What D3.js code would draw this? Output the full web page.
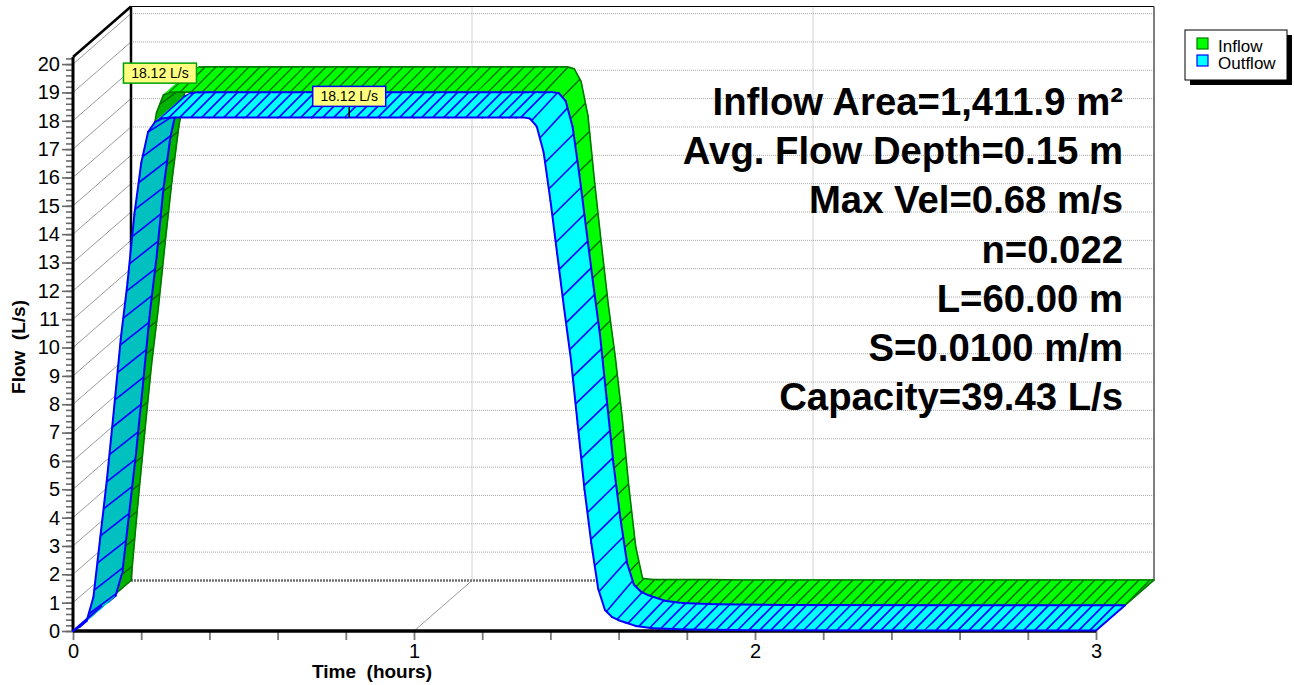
<!DOCTYPE html>
<html>
<head>
<meta charset="utf-8">
<script src="https://cdn.jsdelivr.net/npm/d3@7"></script>
<style>
  body { margin: 0; background: #fff; }
  svg { display: block; font-family: Arial, "Liberation Sans", sans-serif; }
</style>
</head>
<body>
<svg id="chart" width="1294" height="685"></svg>
<script>
// ---- Hydrograph data (hours, L/s) ----
const timeHours = [0, 0.02, 0.04, 0.06, 0.08, 0.10, 0.12, 0.14, 0.16, 0.18, 0.20, 0.22, 0.24, 0.26, 0.28, 0.30,
  0.40, 0.50, 0.60, 0.70, 0.80, 0.90, 1.00, 1.10, 1.20, 1.26, 1.28, 1.30, 1.32, 1.34, 1.36, 1.38, 1.40,
  1.42, 1.44, 1.46, 1.48, 1.50, 1.52, 1.54, 1.56, 1.58, 1.60, 1.62, 1.65, 1.70, 1.80, 2.00, 2.50, 3.00];
const inflowLps = [0, 2.7, 5.2, 7.6, 9.6, 11.9, 14.1, 16.0, 17.4, 18.02, 18.11, 18.12, 18.12, 18.12, 18.12, 18.12,
  18.12, 18.12, 18.12, 18.12, 18.12, 18.12, 18.12, 18.12, 18.12, 18.12, 18.12, 18.05, 17.6, 16.4, 14.0, 11.8, 9.7,
  7.9, 5.8, 3.3, 1.2, 0.08, 0.04, 0.03, 0.03, 0.03, 0.03, 0.03, 0.03, 0.03, 0.02, 0.02, 0.02, 0.02];
const outflowLps = [0, 0.15, 0.35, 1.2, 3.3, 5.4, 7.8, 10.3, 12.3, 14.7, 16.5, 17.6, 17.95, 18.08, 18.11, 18.12,
  18.12, 18.12, 18.12, 18.12, 18.12, 18.12, 18.12, 18.12, 18.12, 18.12, 18.12, 18.12, 18.12, 18.08, 17.8, 16.9, 15.2,
  13.3, 11.4, 9.6, 7.3, 5.0, 3.1, 1.5, 0.74, 0.5, 0.38, 0.3, 0.18, 0.1, 0.05, 0.03, 0.02, 0.02];

const seriesNames = ["Inflow", "Outflow"];
const peakTimes = [0.17, 0.81];
const peakValues = [18.12, 18.12];
const yTickValues = d3.range(0, 21, 1);
const xTickValues = [0, 1, 2, 3];
const infoLines = ["Inflow Area=1,411.9 m\u00B2", "Avg. Flow Depth=0.15 m", "Max Vel=0.68 m/s",
  "n=0.022", "L=60.00 m", "S=0.0100 m/m", "Capacity=39.43 L/s"];

// ---- Layout ----
const svg = d3.select("#chart");
const x = d3.scaleLinear().domain([0, 3]).range([73, 1096]);
const y = d3.scaleLinear().domain([0, 20.25]).range([631, 57]);
const DX = 58, DY = -50.5;            // full depth of the 3D box
const proj = (t, q, z) => [x(t) + z * DX, y(q) + z * DY];

const gridG = svg.append("g");
const frameG = svg.append("g");
const plotG = svg.append("g");
const annoG = svg.append("g");

// back wall horizontal grid + left wall diagonals
yTickValues.forEach(q => {
  const f = proj(0, q, 0), b = proj(0, q, 1), e = proj(3, q, 1);
  gridG.append("line").attr("x1", f[0]).attr("y1", f[1]).attr("x2", b[0]).attr("y2", b[1])
    .attr("stroke", "#9a9a9a").attr("stroke-width", 1);
  if (q > 0) {
    gridG.append("line").attr("x1", b[0]).attr("y1", b[1]).attr("x2", e[0]).attr("y2", e[1])
      .attr("stroke", "#a8a8a8").attr("stroke-width", 1).attr("stroke-dasharray", "1,1");
  }
});
// back wall vertical grid + floor diagonals
[1, 2].forEach(t => {
  const f = proj(t, 0, 0), b = proj(t, 0, 1), top = proj(t, 20.25, 1);
  gridG.append("line").attr("x1", f[0]).attr("y1", f[1]).attr("x2", b[0]).attr("y2", b[1])
    .attr("stroke", "#9a9a9a").attr("stroke-width", 1);
  gridG.append("line").attr("x1", b[0]).attr("y1", b[1]).attr("x2", top[0]).attr("y2", top[1])
    .attr("stroke", "#a8a8a8").attr("stroke-width", 1).attr("stroke-dasharray", "1,1");
});
// back floor edge
{
  const a = proj(0, 0, 1), b = proj(3, 0, 1);
  gridG.append("line").attr("x1", a[0]).attr("y1", a[1]).attr("x2", b[0]).attr("y2", b[1])
    .attr("stroke", "#707070").attr("stroke-width", 2.5).attr("stroke-dasharray", "2,1");
}

// box frame
function frameLine(p, q, color, w) {
  frameG.append("line").attr("x1", p[0]).attr("y1", p[1]).attr("x2", q[0]).attr("y2", q[1])
    .attr("stroke", color).attr("stroke-width", w);
}
const yTop = 20.25;
frameLine(proj(0, yTop, 0), proj(0, yTop, 1), "#000", 2.5);
frameLine(proj(0, 0, 1), proj(0, yTop, 1), "#000", 2.5);
frameLine(proj(0, yTop, 1), proj(3, yTop, 1), "#000", 1.2);
frameLine(proj(3, 0, 1), proj(3, yTop, 1), "#555", 1.5);
frameLine(proj(3, 0, 0), proj(3, 0, 1), "#888", 1);

// axes
const yAxisMinor = d3.axisLeft(y).tickValues(d3.range(0, 20.21, 0.2)).tickSize(7).tickFormat("");
const yAxisMajor = d3.axisLeft(y).tickValues(yTickValues).tickSize(11).tickPadding(2).tickFormat(d3.format("d"));
const yMinorG = frameG.append("g").attr("transform", "translate(73,0)").call(yAxisMinor);
const yMajorG = frameG.append("g").attr("transform", "translate(73,0)").call(yAxisMajor);
[yMinorG, yMajorG].forEach(g => {
  g.select(".domain").remove();
  g.selectAll(".tick line").attr("stroke", "#6a6a6a").attr("stroke-width", 1.6);
});
yMajorG.selectAll(".tick text").attr("font-size", 20).attr("fill", "#000")
  .attr("font-family", "Arial, 'Liberation Sans', sans-serif");

const xAxis = d3.axisBottom(x).tickValues(d3.range(0, 3.001, 0.2)).tickSize(9).tickPadding(4)
  .tickFormat(d => Math.abs(d - Math.round(d)) < 1e-6 ? d3.format("d")(Math.round(d)) : "");
const xG = frameG.append("g").attr("transform", "translate(0,631)").call(xAxis);
xG.select(".domain").remove();
xG.selectAll(".tick line").attr("stroke", "#7a7a7a").attr("stroke-width", 1.8);
xG.selectAll(".tick text").attr("font-size", 20).attr("fill", "#000")
  .attr("font-family", "Arial, 'Liberation Sans', sans-serif");

// front axis lines
frameLine(proj(0, 0, 0), proj(0, yTop, 0), "#000", 3);
frameLine(proj(0, 0, 0), proj(3, 0, 0), "#000", 3.5);

// ---- 3D ribbons ----
const K = 0.39, HATCH = 11, LEAN = 4;
function drawRibbon(vals, z0, z1, style) {
  const g = plotG.append("g");
  const F = timeHours.map((t, i) => proj(t, vals[i], z0));
  const dv = [(z1 - z0) * DX, (z1 - z0) * DY];
  const u = [0];
  for (let i = 1; i < F.length; i++) {
    u.push(u[i - 1] + Math.hypot(F[i][0] - F[i - 1][0], K * (F[i][1] - F[i - 1][1])));
  }
  function at(uu) {
    uu = Math.max(0, Math.min(u[u.length - 1], uu));
    let i = d3.bisectRight(u, uu) - 1;
    i = Math.max(0, Math.min(F.length - 2, i));
    const len = u[i + 1] - u[i] || 1;
    const f = (uu - u[i]) / len;
    const p = [F[i][0] + f * (F[i + 1][0] - F[i][0]), F[i][1] + f * (F[i + 1][1] - F[i][1])];
    return { p, i, c: Math.abs(F[i + 1][0] - F[i][0]) / len };
  }
  const hatchBySeg = d3.range(F.length - 1).map(() => []);
  for (let h = HATCH * 0.6; h < u[u.length - 1]; h += HATCH) {
    const a = at(h), b = at(h - LEAN * a.c);
    hatchBySeg[a.i].push([a.p, [b.p[0] + dv[0], b.p[1] + dv[1]]]);
  }
  for (let i = 0; i < F.length - 1; i++) {
    const p0 = F[i], p1 = F[i + 1];
    const b0 = [p0[0] + dv[0], p0[1] + dv[1]], b1 = [p1[0] + dv[0], p1[1] + dv[1]];
    const ddx = p1[0] - p0[0], ddy = p1[1] - p0[1];
    const cross = ddx * dv[1] - ddy * dv[0];
    const fill = cross > 0 ? style.dark : style.bright;
    g.append("path").attr("d", d3.line()([p0, p1, b1, b0]) + "Z")
      .attr("fill", fill).attr("stroke", fill).attr("stroke-width", 0.8).attr("stroke-linejoin", "round");
    hatchBySeg[i].forEach(l => {
      g.append("line").attr("x1", l[0][0]).attr("y1", l[0][1]).attr("x2", l[1][0]).attr("y2", l[1][1])
        .attr("stroke", style.hatch).attr("stroke-width", style.hatchW);
    });
    g.append("line").attr("x1", p0[0]).attr("y1", p0[1]).attr("x2", p1[0]).attr("y2", p1[1])
      .attr("stroke", style.edge).attr("stroke-width", style.edgeW).attr("stroke-linecap", "round");
    g.append("line").attr("x1", b0[0]).attr("y1", b0[1]).attr("x2", b1[0]).attr("y2", b1[1])
      .attr("stroke", style.edge).attr("stroke-width", style.edgeW).attr("stroke-linecap", "round");
  }
  [0, F.length - 1].forEach(i => {
    g.append("line").attr("x1", F[i][0]).attr("y1", F[i][1])
      .attr("x2", F[i][0] + dv[0]).attr("y2", F[i][1] + dv[1])
      .attr("stroke", style.edge).attr("stroke-width", style.edgeW);
  });
}

const inflowStyle = { bright: "#00FF00", dark: "#00B400", edge: "#007800", edgeW: 1.6, hatch: "#006400", hatchW: 1.4 };
const outflowStyle = { bright: "#00FFFF", dark: "#00C0C0", edge: "#0000FF", edgeW: 2, hatch: "#0000FF", hatchW: 1.6 };
drawRibbon(inflowLps, 0.5, 1, inflowStyle);
drawRibbon(outflowLps, 0, 0.5, outflowStyle);

// ---- peak labels ----
const labelBorders = ["#00A000", "#0000FF"];
const labelDepth = [0.5, 0];
peakTimes.forEach((t, i) => {
  const p = proj(t, peakValues[i], labelDepth[i]);
  const txt = d3.format(".2f")(peakValues[i]) + " L/s";
  const w = 73, h = 20, gap = i === 1 ? 11 : 9;
  if (i === 1) {
    annoG.append("line").attr("x1", p[0]).attr("y1", p[1] - gap).attr("x2", p[0]).attr("y2", p[1])
      .attr("stroke", "#000").attr("stroke-width", 1.5);
  }
  annoG.append("rect").attr("x", p[0] - w / 2).attr("y", p[1] - gap - h).attr("width", w).attr("height", h)
    .attr("fill", "#FFFF80").attr("stroke", labelBorders[i]).attr("stroke-width", 1.5);
  annoG.append("text").attr("x", p[0]).attr("y", p[1] - gap - h / 2 + 5).attr("text-anchor", "middle")
    .attr("font-size", 14).attr("fill", "#000").text(txt);
});

// ---- info text ----
infoLines.forEach((s, i) => {
  annoG.append("text").attr("x", 1123).attr("y", 115 + i * 49.2).attr("text-anchor", "end")
    .attr("font-size", 38.3).attr("font-weight", "bold").attr("fill", "#000").text(s);
});

// ---- axis titles ----
annoG.append("text").attr("transform", "translate(25,347) rotate(-90)").attr("text-anchor", "middle")
  .attr("font-size", 19).attr("font-weight", "bold")
  .style("white-space", "pre").text("Flow  (L/s)");
annoG.append("text").attr("x", 372).attr("y", 678).attr("text-anchor", "middle")
  .attr("font-size", 19).attr("font-weight", "bold")
  .style("white-space", "pre").text("Time  (hours)");

// ---- legend ----
const lg = annoG.append("g").attr("transform", "translate(1185,30)");
lg.append("rect").attr("x", 5).attr("y", 5).attr("width", 102).attr("height", 50).attr("fill", "#000");
lg.append("rect").attr("x", 0).attr("y", 0).attr("width", 102).attr("height", 50)
  .attr("fill", "#fff").attr("stroke", "#000").attr("stroke-width", 1);
const legendFill = ["#00FF00", "#00FFFF"], legendEdge = ["#007800", "#0000FF"];
seriesNames.forEach((n, i) => {
  lg.append("rect").attr("x", 12).attr("y", 8 + i * 17).attr("width", 11).attr("height", 11)
    .attr("fill", legendFill[i]).attr("stroke", legendEdge[i]).attr("stroke-width", 1.2);
  lg.append("text").attr("x", 33).attr("y", 22 + i * 17).attr("font-size", 17).attr("fill", "#000").text(n);
});
</script>
</body>
</html>
